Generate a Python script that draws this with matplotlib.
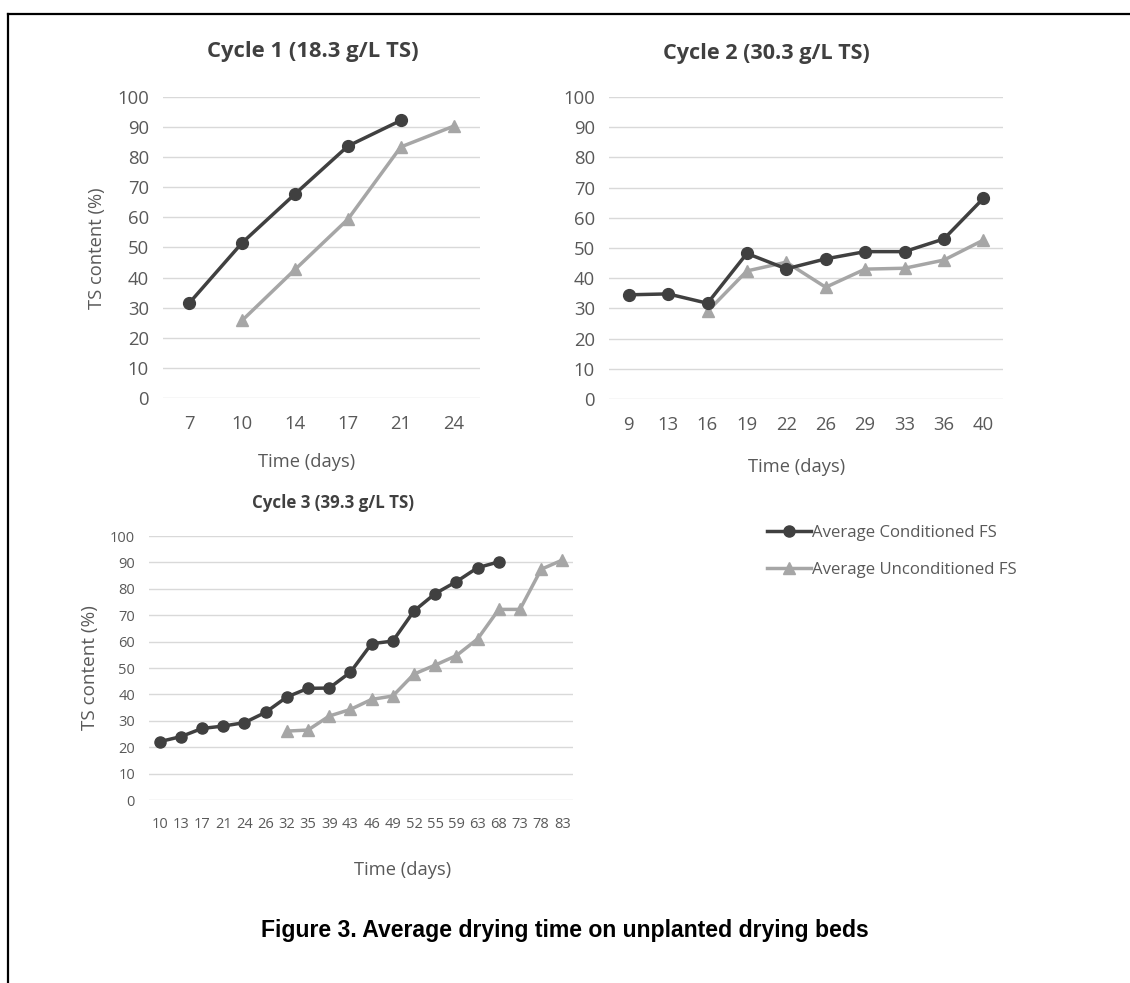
import matplotlib

matplotlib.use("Agg")
import matplotlib.pyplot as plt
from matplotlib.lines import Line2D
import numpy as np

W, H = 1130, 983
nan = np.nan

# values (TS content, %)
cycle1_days = ["7", "10", "14", "17", "21", "24"]
cycle1_cond = [31.6, 51.6, 67.8, 83.7, 92.2, nan]
cycle1_uncond = [nan, 25.8, 42.7, 59.4, 83.4, 90.3]

cycle2_days = ["9", "13", "16", "19", "22", "26", "29", "33", "36", "40"]
cycle2_cond = [34.5, 34.8, 31.7, 48.2, 43.1, 46.4, 48.8, 48.8, 53.0, 66.4]
cycle2_uncond = [nan, nan, 29.0, 42.4, 45.3, 37.0, 43.0, 43.3, 46.0, 52.6]

cycle3_days = ["10", "13", "17", "21", "24", "26", "32", "35", "39", "43",
               "46", "49", "52", "55", "59", "63", "68", "73", "78", "83"]
cycle3_cond = [22.1, 24.0, 27.1, 28.0, 29.3, 33.2, 39.0, 42.3, 42.4, 48.4,
               59.2, 60.2, 71.6, 78.2, 82.7, 88.0, 90.2, nan, nan, nan]
cycle3_uncond = [nan, nan, nan, nan, nan, nan, 26.1, 26.5, 31.8, 34.3,
                 38.1, 39.4, 47.7, 51.1, 54.7, 61.0, 72.2, 72.2, 87.4, 90.9]

titles = ["Cycle 1 (18.3 g/L TS)", "Cycle 2 (30.3 g/L TS)", "Cycle 3 (39.3 g/L TS)"]
series_names = ["Average Conditioned FS", "Average Unconditioned FS"]
caption = "Figure 3. Average drying time on unplanted drying beds"

DARK = "#404040"
LIGHT = "#a6a6a6"
TXT = "#595959"
GRID = "#d9d9d9"
FONT = "Open Sans"

plt.rcParams["font.family"] = [FONT, "DejaVu Sans"]


def fx(px):
    return px / W


def fy(py):
    return 1 - py / H


def make_axes(fig, left, top, right, bottom):
    return fig.add_axes([fx(left), fy(bottom), (right - left) / W, (bottom - top) / H])


def draw_cycle(ax, days, cond, uncond, fs, ms, xpad):
    x = np.arange(len(days))
    h1, = ax.plot(x, np.array(cond, dtype=float), color=DARK, lw=2.5, marker="o",
                  ms=ms, clip_on=False, zorder=3)
    h2, = ax.plot(x, np.array(uncond, dtype=float), color=LIGHT, lw=2.5, marker="^",
                  ms=ms, clip_on=False, zorder=2)
    ax.set_xlim(-0.5, len(days) - 0.5)
    ax.set_ylim(0, 100)
    ax.set_yticks(range(0, 101, 10))
    ax.set_xticks(x)
    ax.set_xticklabels(days)
    ax.grid(axis="y", color=GRID, lw=1.0)
    ax.set_axisbelow(True)
    for s in ax.spines.values():
        s.set_visible(False)
    ax.tick_params(axis="both", length=0, labelsize=fs, labelcolor=TXT)
    ax.tick_params(axis="y", pad=10)
    ax.tick_params(axis="x", pad=xpad)
    return h1, h2


fig = plt.figure(figsize=(W / 100, H / 100), dpi=100)

ax1 = make_axes(fig, 163, 97, 480, 398)
draw_cycle(ax1, cycle1_days, cycle1_cond, cycle1_uncond, 13.3, 8.5, 12)
ax2 = make_axes(fig, 609, 97, 1003, 399)
draw_cycle(ax2, cycle2_days, cycle2_cond, cycle2_uncond, 13.3, 8.5, 12)
ax3 = make_axes(fig, 149, 536, 573, 800)
handles = draw_cycle(ax3, cycle3_days, cycle3_cond, cycle3_uncond, 10.5, 8, 12.5)

# titles and axis labels placed to match the reference layout
fig.text(fx(313), fy(52), titles[0], ha="center", va="center", fontsize=15.8,
         fontweight="bold", color=DARK)
fig.text(fx(766), fy(54), titles[1], ha="center", va="center", fontsize=15.6,
         fontweight="bold", color=DARK)
fig.text(fx(333), fy(503), titles[2], ha="center", va="center", fontsize=12.2,
         fontweight="bold", color=DARK)

fig.text(fx(307), fy(462), "Time (days)", ha="center", va="center", fontsize=13.2, color=TXT)
fig.text(fx(797), fy(467), "Time (days)", ha="center", va="center", fontsize=13.2, color=TXT)
fig.text(fx(403), fy(870), "Time (days)", ha="center", va="center", fontsize=13.2, color=TXT)

fig.text(fx(97), fy(248), "TS content (%)", ha="center", va="center", rotation=90,
         fontsize=13.2, color=TXT)
fig.text(fx(90), fy(668), "TS content (%)", ha="center", va="center", rotation=90,
         fontsize=13.6, color=TXT)

leg = fig.legend(handles, series_names, loc="upper left",
                 bbox_to_anchor=(fx(752), fy(510)), frameon=False,
                 handlelength=2.6, handletextpad=0.05, labelspacing=1.25,
                 prop={"family": FONT, "size": 12.1})
for t in leg.get_texts():
    t.set_color(TXT)

fig.text(fx(565), fy(930), caption, ha="center", va="center", fontsize=16.6,
         fontweight="bold", family="Liberation Sans", color="black")

# page frame: top and left edges only
fig.add_artist(Line2D([fx(8), 1], [fy(14), fy(14)], color="black", lw=1.6,
                      transform=fig.transFigure))
fig.add_artist(Line2D([fx(8), fx(8)], [fy(14), 0], color="black", lw=1.6,
                      transform=fig.transFigure))

fig.savefig("out.png", dpi=100)
